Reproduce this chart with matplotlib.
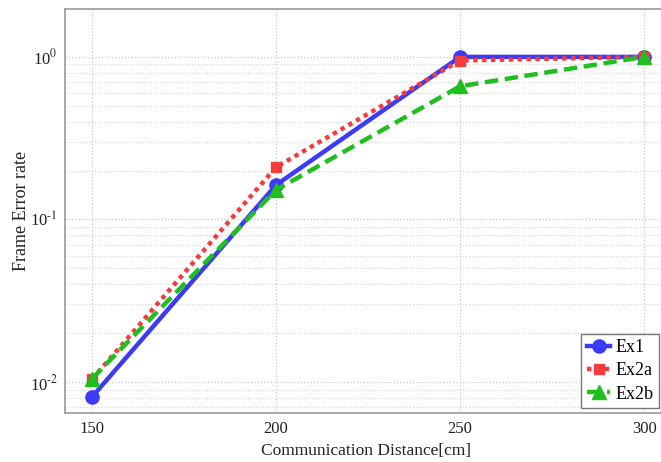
import numpy as np
import matplotlib
matplotlib.use("Agg")
import matplotlib.pyplot as plt
from matplotlib.ticker import LogLocator, NullFormatter, FuncFormatter

distance = [150, 200, 250, 300]
ex1 = [0.0081, 0.163, 1.0, 1.0]
ex2a = [0.0104, 0.21, 0.95, 1.0]
ex2b = [0.0105, 0.152, 0.66, 1.0]
labels = ["Ex1", "Ex2a", "Ex2b"]

plt.rcParams['font.family'] = ['Liberation Serif', 'DejaVu Serif']
plt.rcParams['mathtext.fontset'] = 'stix'

fig = plt.figure(figsize=(6.61, 4.62), dpi=100)
ax = fig.add_axes([0.098, 0.106, 0.91, 0.8745])

ax.plot(distance, ex1, color='#3b3bf5', linestyle='-', linewidth=3.2,
        marker='o', markersize=9.5, label=labels[0], zorder=3)
ax.plot(distance, ex2a, color='#f53b3b', linestyle=(0, (1, 1)), linewidth=3.2,
        marker='s', markersize=7.5, label=labels[1], zorder=4)
ax.plot(distance, ex2b, color='#1fbf1f', linestyle=(0, (3, 1.5)), linewidth=3.2,
        marker='^', markersize=9.5, label=labels[2], zorder=5)

ax.set_yscale('log')
ax.set_xlim(142.6, 306)
ax.set_ylim(0.00645, 1.97)
ax.set_xticks(distance)
ax.yaxis.set_major_locator(LogLocator(base=10, numticks=10))
ax.yaxis.set_minor_locator(LogLocator(base=10, subs=np.arange(2, 10), numticks=10))
ax.yaxis.set_minor_formatter(NullFormatter())
ax.yaxis.set_major_formatter(FuncFormatter(
    lambda v, p: r'10$^{\text{%d}}$' % int(round(np.log10(v)))))

ax.grid(True, which='major', color='#c8c8c8', linestyle=':', linewidth=0.9)
ax.grid(True, which='minor', axis='y', color='#d4d4d4', linestyle=':', linewidth=0.8)
ax.tick_params(which='both', length=0, labelsize=12, colors='#222222', pad=6)
ax.tick_params(axis='y', pad=5)

for s in ax.spines.values():
    s.set_color('#999999')
    s.set_linewidth(1.2)

ax.set_xlabel('Communication Distance[cm]', fontsize=12.5, color='#222222', labelpad=4)
ax.set_ylabel('Frame Error rate', fontsize=13, color='#222222')
ax.yaxis.set_label_coords(-0.058, 0.5)

leg = ax.legend(loc='lower right', bbox_to_anchor=(0.988, 0.012), fontsize=13,
                fancybox=False, edgecolor='#777777', framealpha=1,
                handlelength=1.3, handletextpad=0.3, borderpad=0.3,
                labelspacing=0.35, borderaxespad=0)
leg.get_frame().set_linewidth(1.0)

fig.savefig('out.png', dpi=100)
